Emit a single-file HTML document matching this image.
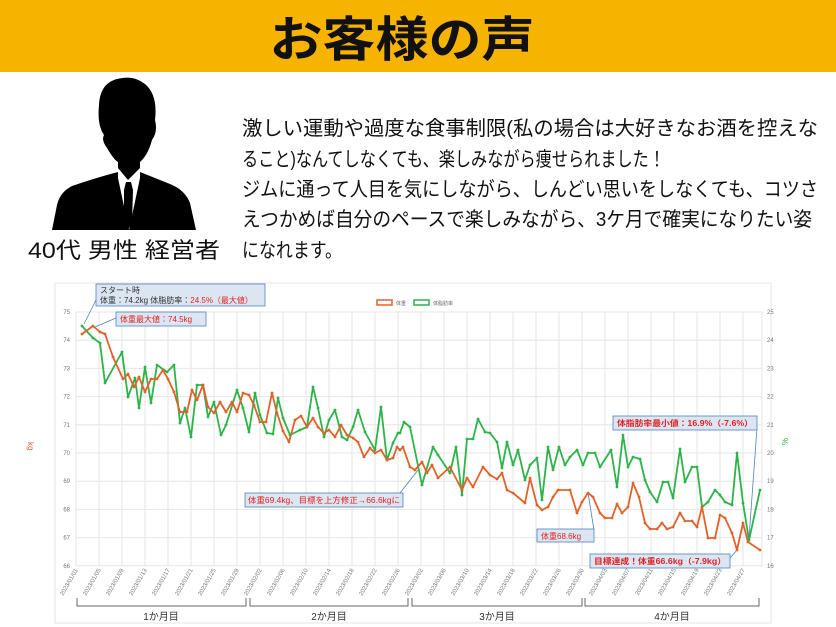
<!DOCTYPE html>
<html><head><meta charset="utf-8"><style>
html,body{margin:0;padding:0;background:#fff;width:836px;height:627px;overflow:hidden}
svg{display:block}
</style></head><body>
<svg id="s" width="836" height="627" viewBox="0 0 836 627" xmlns="http://www.w3.org/2000/svg" font-family="'Liberation Sans','Noto Sans CJK JP',sans-serif">
<rect x="0" y="0" width="836" height="72" fill="#f6b400"/>
<text x="402" y="56" text-anchor="middle" font-size="48" font-weight="bold" fill="#111" textLength="265" lengthAdjust="spacingAndGlyphs">お客様の声</text>
<!-- silhouette -->
<g fill="#000">
<path d="M123 78 Q100 80 99 105 Q97 125 104 135 Q101 140 107 148 Q114 160 118 162 L118 172 Q95 178 72 186 Q60 192 57 205 L52 230 L196 230 L190 203 Q185 190 170 184 Q150 176 140 172 L140 162 Q148 155 152 140 Q158 132 155 120 Q158 95 145 84 Q135 76 123 78 Z"/>
</g>
<path d="M118 168 L128 180 L140 168 L140 178 L129 230 L118 178 Z" fill="#fff"/>
<path d="M126 182 L131 182 L133 190 L132 222 L128 230 L124 222 L124 190 Z" fill="#000"/>
<text x="124" y="258" text-anchor="middle" font-size="22" fill="#111" textLength="192" lengthAdjust="spacingAndGlyphs">40代 男性 経営者</text>
<g font-size="20" fill="#111">
<text x="242" y="135" textLength="576" lengthAdjust="spacingAndGlyphs">激しい運動や過度な食事制限(私の場合は大好きなお酒を控えな</text>
<text x="242" y="166" textLength="423" lengthAdjust="spacingAndGlyphs">ること)なんてしなくても、楽しみながら痩せられました！</text>
<text x="242" y="196" textLength="576" lengthAdjust="spacingAndGlyphs">ジムに通って人目を気にしながら、しんどい思いをしなくても、コツさ</text>
<text x="242" y="226" textLength="570" lengthAdjust="spacingAndGlyphs">えつかめば自分のペースで楽しみながら、3ケ月で確実になりたい姿</text>
<text x="242" y="257" textLength="100" lengthAdjust="spacingAndGlyphs">になれます。</text>
</g>
<rect x="55" y="283" width="716" height="340" fill="none" stroke="#e4e4e4"/>
<g id="grid" stroke="#e6e6e6" stroke-width="1"></g>
<g id="ticks" font-size="6" fill="#777"></g>
<text x="28" y="442" font-size="8" fill="#e0622a" transform="rotate(90 28 442)">kg</text>
<text x="782" y="438" font-size="8" fill="#2db34a" transform="rotate(90 782 438)">%</text>
<!-- legend -->
<rect x="377" y="300" width="15" height="5" fill="none" stroke="#e0622a" stroke-width="1.5"/>
<text x="396" y="305" font-size="5" fill="#666">体重</text>
<rect x="414" y="300" width="15" height="5" fill="none" stroke="#2db34a" stroke-width="1.5"/>
<text x="433" y="305" font-size="5" fill="#666">体脂肪率</text>
<polyline id="g" fill="none" stroke="#2db34a" stroke-width="1.8" stroke-linejoin="round"/>
<polyline id="o" fill="none" stroke="#e0622a" stroke-width="1.8" stroke-linejoin="round"/>
<!-- brackets -->
<g stroke="#666" fill="none" stroke-width="1">
<path d="M77 598 V606 H246 V598"/><path d="M250 598 V606 H408 V598"/><path d="M412 598 V606 H582 V598"/><path d="M585 598 V606 H759 V598"/>
</g>
<g font-size="10" fill="#333" text-anchor="middle">
<text x="161" y="620">1か月目</text><text x="329" y="620">2か月目</text><text x="497" y="620">3か月目</text><text x="672" y="620">4か月目</text>
</g>
<!-- annotations -->
<g stroke="#4f81bd" stroke-width="0.8">
<line x1="96" y1="300" x2="84" y2="324"/><line x1="116" y1="318" x2="95" y2="327"/>
<line x1="400" y1="493" x2="418" y2="470"/><line x1="594" y1="530" x2="588" y2="493"/>
<line x1="730" y1="558" x2="737" y2="550"/><line x1="757" y1="428" x2="749" y2="538"/>
</g>
<g fill="#dce6f2" stroke="#4f81bd" stroke-width="0.8">
<rect x="96" y="284" width="169" height="22"/>
<rect x="116" y="312" width="90" height="14"/>
<rect x="245" y="493" width="158" height="14"/>
<rect x="537" y="529" width="57" height="13"/>
<rect x="590" y="554" width="140" height="14"/>
<rect x="613" y="416" width="144" height="14"/>
</g>
<g font-size="8" fill="#333">
<text x="100" y="293">スタート時</text>
<text x="100" y="303">体重：74.2kg  体脂肪率：<tspan fill="#e02020">24.5%（最大値）</tspan></text>
<text x="120" y="322" fill="#e02020">体重最大値：74.5kg</text>
<text x="248" y="503" fill="#e02020" textLength="152" lengthAdjust="spacingAndGlyphs">体重69.4kg、目標を上方修正→66.6kgに</text>
<text x="541" y="539" fill="#e02020">体重68.6kg</text>
<text x="594" y="564" fill="#e02020" font-weight="bold" textLength="132" lengthAdjust="spacingAndGlyphs">目標達成！体重66.6kg（-7.9kg）</text>
<text x="617" y="426" fill="#e02020" font-weight="bold" textLength="136" lengthAdjust="spacingAndGlyphs">体脂肪率最小値：16.9%（-7.6%）</text>
</g>
</svg>
<script>
var NS="http://www.w3.org/2000/svg";
var grid=document.getElementById('grid'),ticks=document.getElementById('ticks');
function el(t,a,p,txt){var e=document.createElementNS(NS,t);for(var k in a)e.setAttribute(k,a[k]);if(txt)e.textContent=txt;p.appendChild(e);return e;}
for(var i=0;i<=9;i++){var y=312+i*28.2;el('line',{x1:76,x2:762,y1:y,y2:y},grid);
el('text',{x:70,y:y+2,'text-anchor':'end'},ticks,String(75-i));el('text',{x:767,y:y+2},ticks,String(25-i));}
var dates=["01/01","01/05","01/09","01/13","01/17","01/21","01/25","01/29","02/02","02/06","02/10","02/14","02/18","02/22","02/26","03/02","03/06","03/10","03/14","03/18","03/22","03/26","03/30","04/03","04/07","04/11","04/15","04/19","04/23","04/27"];
for(var i=0;i<30;i++){var x=76+i*23;el('line',{x1:x,x2:x,y1:312,y2:566},grid);
var tx=x+2,ty=570;el('text',{x:tx,y:ty,'text-anchor':'end',transform:'rotate(-60 '+tx+' '+ty+')'},ticks,'2023/'+dates[i]);}
el('line',{x1:762,x2:762,y1:312,y2:566},grid);
var o=[[82,334],[93,326],[100,332],[105,334],[113,357],[123,379],[128,374],[134,387],[139,377],[145,392],[151,379],[157,379],[163,370],[168,379],[174,392],[180,412],[187,412],[192,390],[197,400],[203,385],[208,407],[214,413],[220,402],[226,412],[232,402],[237,412],[243,393],[249,395],[254,405],[260,422],[266,422],[272,393],[277,413],[283,431],[289,442],[295,420],[301,416],[307,427],[313,418],[318,427],[324,433],[329,430],[335,437],[341,425],[347,435],[353,438],[358,442],[364,457],[370,448],[375,453],[381,450],[387,460],[393,458],[397,447],[400,450],[403,447],[410,467],[415,470],[422,462],[427,473],[432,465],[438,478],[450,467],[462,490],[467,478],[473,487],[483,467],[490,475],[497,479],[502,473],[507,490],[513,493],[525,503],[530,478],[537,505],[542,510],[548,507],[553,497],[558,490],[570,490],[577,513],[582,502],[588,493],[593,497],[600,513],[605,518],[612,518],[617,504],[622,513],[628,507],[633,483],[639,497],[645,523],[650,529],[657,529],[662,523],[667,529],[673,527],[680,513],[685,521],[692,521],[697,527],[702,507],[708,538],[715,538],[720,515],[725,518],[732,533],[737,550],[743,523],[748,542],[760,550]];
var g=[[82,326],[93,338],[100,343],[105,383],[122,352],[128,397],[135,378],[139,408],[145,367],[151,403],[157,365],[167,372],[174,365],[180,423],[185,408],[191,437],[197,385],[203,385],[208,417],[214,402],[221,435],[226,425],[237,390],[243,408],[249,432],[255,393],[260,415],[267,433],[273,434],[278,398],[283,418],[290,435],[300,430],[307,427],[313,387],[318,408],[324,437],[329,420],[335,410],[342,437],[347,440],[353,427],[358,410],[365,432],[375,450],[381,407],[387,460],[393,443],[398,433],[400,433],[404,422],[410,427],[422,485],[433,447],[438,455],[450,473],[456,447],[462,495],[467,439],[473,439],[478,419],[485,432],[490,433],[497,442],[502,468],[507,442],[513,465],[518,450],[525,480],[530,465],[537,458],[542,500],[548,447],[553,470],[559,447],[565,465],[570,457],[577,450],[583,465],[588,453],[595,453],[600,467],[611,450],[617,487],[623,435],[628,467],[633,457],[640,459],[645,480],[650,492],[657,502],[663,482],[668,482],[673,498],[680,449],[685,482],[692,467],[697,467],[702,507],[708,502],[715,490],[720,495],[725,502],[732,505],[737,453],[743,503],[749,540],[760,490]];
function pl(id,d,c){document.getElementById(id).setAttribute('points',d.map(function(p){return p.join(',')}).join(' '));
var s=document.getElementById('s');d.forEach(function(p){el('circle',{cx:p[0],cy:p[1],r:1.4,fill:c},s);});}
pl('g',g,'#2db34a');pl('o',o,'#e0622a');
</script>
</body></html>
